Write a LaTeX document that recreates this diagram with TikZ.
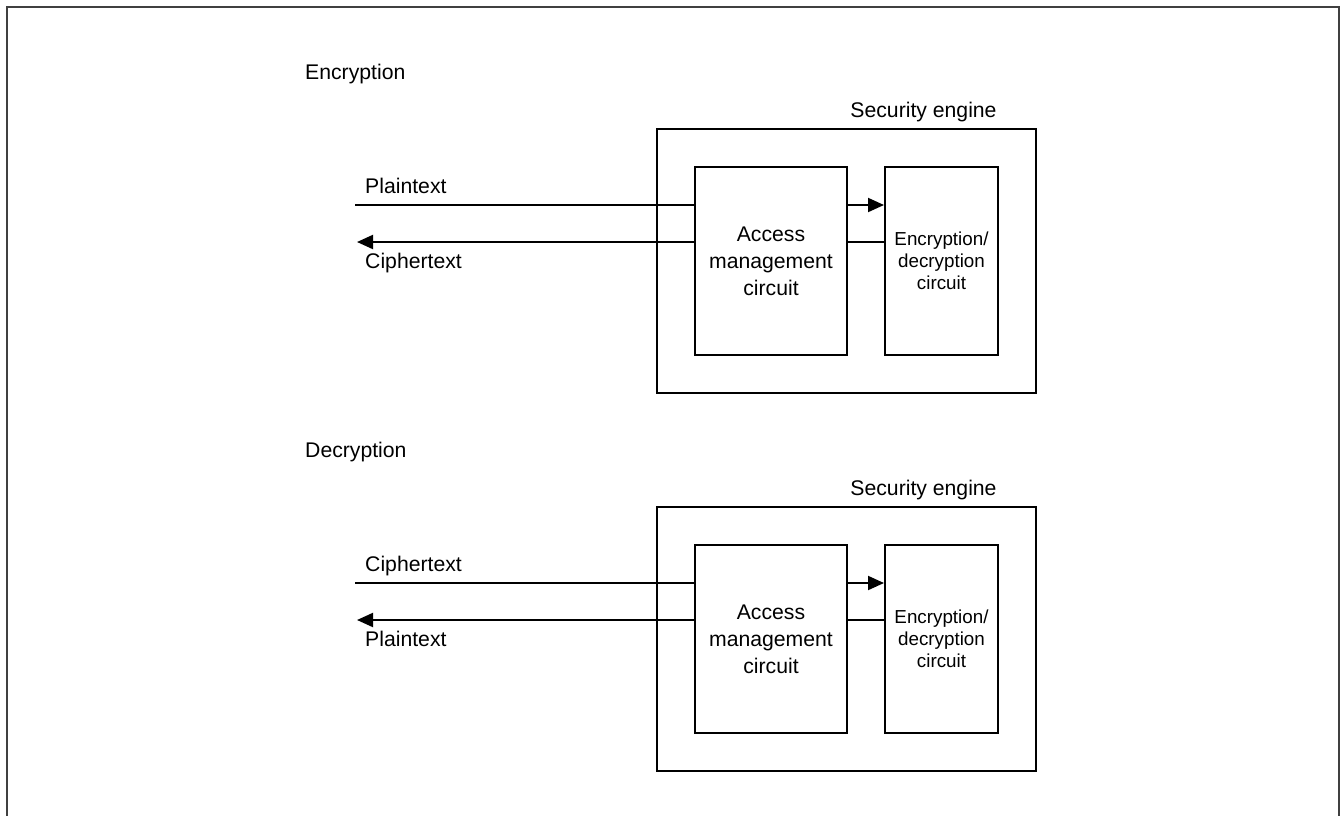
\documentclass[tikz,border=0pt]{standalone}
\usepackage{fontspec}
\setmainfont{Liberation Sans}
\usetikzlibrary{arrows.meta}
\definecolor{framegray}{HTML}{404040}
\tikzset{
  box/.style={draw=black, line width=2pt, inner sep=0pt, align=center},
  lbl/.style={font=\fontsize{21.2pt}{25pt}\selectfont, inner sep=0pt},
  wire/.style={line width=2pt},
  arr/.style={wire, -{Triangle[length=16pt,width=14pt]}},
}
\begin{document}
\begin{tikzpicture}[x=1pt,y=-1pt]
\useasboundingbox (0,0) rectangle (1341,815);
\draw[framegray, line width=2.5pt] (7,816) -- (7,7) -- (1339,7) -- (1339,816);
\foreach \s/\dy/\a/\b/\t in {e/0/Plaintext/Ciphertext/Encryption, d/378/Ciphertext/Plaintext/Decryption}{
  \begin{scope}[yshift=-\dy pt]
  \node[lbl, anchor=base west] (title\s) at (305,79) {\t};
  \node[box, minimum width=379pt, minimum height=264pt] (eng\s) at (846.5,261) {};
  \node[lbl, anchor=base] (englbl\s) at (923.5,117) {Security engine};
  \node[box, minimum width=152pt, minimum height=188pt,
        font=\fontsize{21.2pt}{27pt}\selectfont] (acc\s) at (771,261) {Access\\management\\circuit};
  \node[box, minimum width=113pt, minimum height=188pt,
        font=\fontsize{18.8pt}{22pt}\selectfont] (enc\s) at (941.5,261) {Encryption/\\decryption\\circuit};
  \coordinate (in\s) at (355,205);
  \coordinate (out\s) at (357,242);
  \draw[wire] (in\s) -- (acc\s.west |- in\s);
  \draw[arr] (acc\s.west |- out\s) -- (out\s);
  \draw[arr] (acc\s.east |- in\s) -- (enc\s.west |- in\s);
  \draw[wire] (acc\s.east |- out\s) -- (enc\s.west |- out\s);
  \node[lbl, anchor=base west] (inlbl\s) at (365,193) {\a};
  \node[lbl, anchor=base west] (outlbl\s) at (365,268) {\b};
  \end{scope}
}
\end{tikzpicture}
\end{document}
